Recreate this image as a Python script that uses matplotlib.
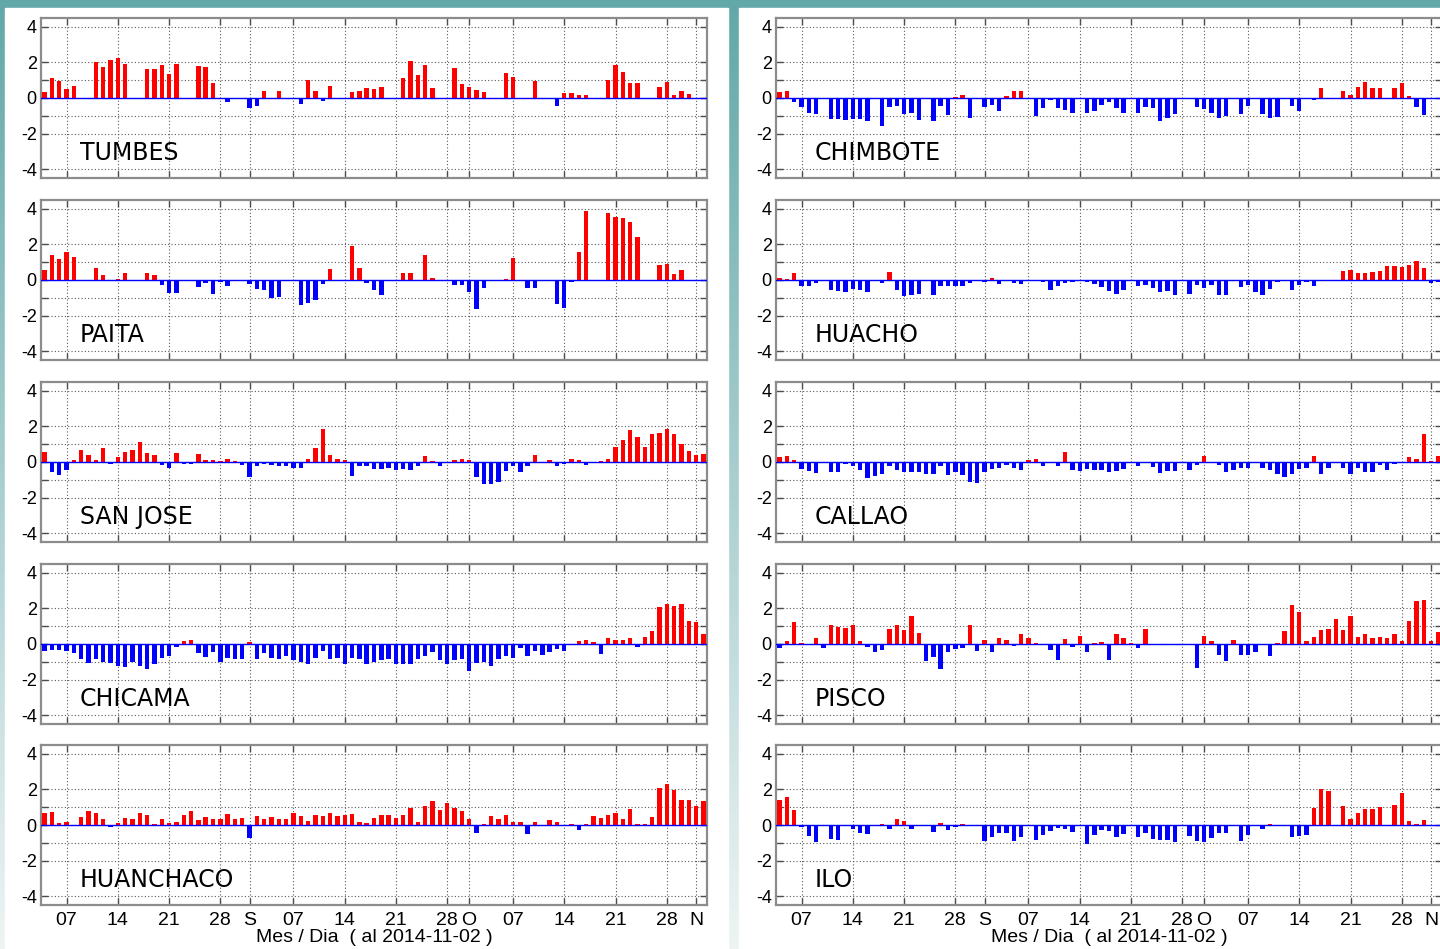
import numpy as np
import pandas as pd
import matplotlib
matplotlib.use('Agg')
import matplotlib.pyplot as plt
from matplotlib.patches import Rectangle

days = pd.date_range('2014-08-04', '2014-11-02', freq='D')

tumbes = [0.34, 1.10, 0.97, 0.49, 0.69, 0, 0, 2.02, 1.74, 2.15,
          2.24, 1.93, 0, 0, 1.61, 1.64, 1.87, 1.33, 1.93, 0,
          0, 1.81, 1.74, 0.86, 0, -0.24, 0, 0, -0.56, -0.43,
          0.41, 0, 0.37, 0, 0, -0.34, 1.01, 0.37, -0.19, 0.69,
          0, 0, 0.33, 0.37, 0.56, 0.50, 0.61, 0, 0, 1.14,
          2.07, 1.29, 1.83, 0.56, 0, 0, 1.70, 0.79, 0.62, 0.43,
          0.34, 0, 0, 1.42, 1.20, 0, -0.07, 0.97, 0, 0,
          -0.43, 0.28, 0.28, 0.19, 0.19, 0, 0, 1.01, 1.83, 1.48,
          0.82, 0.82, 0, 0, 0.64, 0.92, 0.19, 0.41, 0.22, 0,
          0]

paita = [0.58, 1.40, 1.18, 1.55, 1.27, 0, 0, 0.67, 0.26, 0,
         0.06, 0.39, 0, 0, 0.39, 0.26, -0.26, -0.73, -0.73, 0,
         0, -0.41, -0.19, -0.77, -0.09, -0.36, 0, 0, -0.24, -0.49,
         -0.54, -1.01, -0.96, 0, 0, -1.40, -1.31, -1.10, -0.21, 0.64,
         0, 0, 1.93, 0.67, -0.19, -0.58, -0.82, 0, 0, 0.39,
         0.39, 0, 1.40, 0.13, 0, 0, -0.28, -0.28, -0.67, -1.61,
         -0.47, 0, 0, 0.04, 1.22, 0, -0.47, -0.47, 0, 0,
         -1.33, -1.57, -0.09, 1.55, 3.88, 0, 0, 3.75, 3.56, 3.46,
         3.26, 2.42, 0, 0, 0.86, 0.92, 0.32, 0.56, 0, 0,
         0]

san_jose = [0.54, -0.56, -0.72, -0.47, 0.10, 0.68, 0.41, 0.14, 0.78, -0.12,
            0.29, 0.56, 0.68, 1.15, 0.52, 0.41, -0.17, -0.31, 0.52, -0.12,
            -0.12, 0.47, 0.10, 0.10, 0.06, 0.17, 0.06, -0.17, -0.85, -0.21,
            -0.12, -0.17, -0.21, -0.25, -0.35, -0.31, 0.17, 0.78, 1.83, 0.41,
            0.17, 0.14, -0.76, -0.25, -0.21, -0.37, -0.41, -0.35, -0.47, -0.41,
            -0.47, -0.21, 0.33, 0.06, -0.21, -0.08, 0.14, 0.17, 0.10, -0.85,
            -1.22, -1.22, -1.11, -0.52, -0.21, -0.56, -0.21, 0.37, -0.06, 0.14,
            -0.21, -0.12, 0.17, 0.12, -0.17, -0.06, 0.06, 0.19, 0.83, 1.22,
            1.79, 1.42, 0.83, 1.57, 1.65, 1.83, 1.57, 1.01, 0.60, 0.37,
            0.43]

chicama = [-0.42, -0.33, -0.33, -0.42, -0.52, -0.85, -1.06, -0.85, -1.00, -1.06,
           -1.23, -1.29, -1.00, -1.23, -1.42, -1.15, -0.77, -0.69, -0.19, 0.15,
           0.25, -0.52, -0.73, -0.46, -1.00, -0.77, -0.85, -0.85, 0.12, -0.85,
           -0.52, -0.81, -0.85, -0.69, -0.90, -1.00, -1.15, -0.77, -0.42, -0.87,
           -0.81, -1.12, -0.81, -0.85, -1.12, -1.00, -0.90, -0.85, -1.12, -1.15,
           -1.12, -0.85, -0.65, -0.46, -0.90, -1.12, -0.90, -0.85, -1.50, -1.06,
           -1.00, -1.23, -0.85, -0.69, -0.81, -0.23, -0.65, -0.42, -0.62, -0.46,
           -0.29, -0.42, -0.08, 0.15, 0.23, 0.12, -0.58, 0.35, 0.21, 0.25,
           0.33, -0.19, 0.40, 0.71, 2.10, 2.27, 2.13, 2.27, 1.29, 1.25,
           0.56]

huanchaco = [0.67, 0.71, 0.10, 0.16, 0, 0.43, 0.80, 0.67, 0.33, -0.10,
             0.14, 0.39, 0.35, 0.67, 0.55, 0.08, 0.35, 0.12, 0.16, 0.55,
             0.76, 0.27, 0.43, 0.35, 0.35, 0.61, 0.31, 0.39, -0.71, 0.51,
             0.31, 0.43, 0.35, 0.31, 0.67, 0.51, 0.24, 0.55, 0.51, 0.67,
             0.51, 0.55, 0.61, 0.18, 0.12, 0.39, 0.59, 0.55, 0.39, 0.55,
             0.96, 0.18, 1.06, 1.35, 0.86, 1.22, 0.96, 0.80, 0.31, -0.47,
             0.06, 0.51, 0.35, 0.59, 0.18, 0.16, -0.51, 0.18, -0.08, 0.27,
             0.16, 0, 0.04, -0.27, 0.06, 0.51, 0.39, 0.55, 0.69, 0.35,
             0.90, 0.06, 0.06, 0.43, 2.06, 2.33, 1.96, 1.41, 1.41, 1.06,
             1.35]

chimbote = [0.33, 0.42, -0.21, -0.52, -0.83, -0.88, 0, -1.17, -1.17, -1.21,
            -1.17, -1.17, -1.27, 0, -1.56, -0.52, -0.44, -0.88, -0.83, -1.21,
            0, -1.27, -0.44, -0.98, 0.06, 0.19, -1.13, 0, -0.48, -0.40,
            -0.71, 0.13, 0.42, 0.42, 0, -1.02, -0.54, -0.10, -0.54, -0.67,
            -0.83, 0, -0.87, -0.75, -0.37, -0.21, -0.54, -0.83, 0, -0.83,
            -0.50, -0.54, -1.27, -1.12, -0.92, 0, 0, -0.48, -0.63, -0.83,
            -1.12, -1.02, 0, -0.88, -0.44, 0, -0.92, -1.12, -1.06, 0,
            -0.44, -0.75, 0, -0.10, 0.56, 0, 0, 0.42, 0.19, 0.60,
            0.92, 0.54, 0.56, 0, 0.56, 0.85, 0.13, -0.52, -0.96, 0,
            0]

huacho = [0.10, 0.06, 0.40, -0.35, -0.35, -0.19, 0, -0.58, -0.63, -0.67,
          -0.48, -0.58, -0.67, 0, -0.19, 0.46, -0.58, -0.90, -0.83, -0.77,
          0, -0.83, -0.33, -0.35, -0.33, -0.35, -0.15, 0, -0.13, 0.10,
          -0.21, 0, -0.15, -0.25, 0, 0, -0.10, -0.58, -0.33, -0.15,
          -0.10, 0, -0.10, -0.25, -0.38, -0.63, -0.77, -0.58, 0, -0.35,
          -0.29, -0.44, -0.67, -0.63, -0.87, 0, -0.77, -0.29, -0.44, -0.29,
          -0.83, -0.87, 0, -0.38, -0.29, -0.67, -0.83, -0.52, -0.13, 0,
          -0.58, -0.29, -0.10, -0.35, 0, -0.08, 0, 0.52, 0.54, 0.40,
          0.40, 0.46, 0.50, 0.81, 0.77, 0.71, 0.85, 1.06, 0.65, -0.15,
          -0.13]

callao = [0.27, 0.33, 0.12, -0.38, -0.48, -0.62, 0, -0.58, -0.54, -0.13,
          -0.23, -0.44, -0.88, -0.77, -0.69, -0.23, -0.44, -0.58, -0.58, -0.58,
          -0.65, -0.65, -0.23, -0.73, -0.54, -0.73, -1.12, -1.19, -0.58, -0.42,
          -0.35, -0.19, -0.35, -0.44, 0.10, 0.17, -0.23, 0, -0.23, 0.58,
          -0.44, -0.48, -0.38, -0.44, -0.44, -0.54, -0.50, -0.38, 0, -0.23,
          -0.08, -0.29, -0.63, -0.50, -0.50, 0, -0.44, -0.19, 0.33, 0,
          -0.19, -0.58, -0.44, -0.35, -0.35, 0, -0.35, -0.44, -0.69, -0.83,
          -0.69, -0.38, -0.35, 0.33, -0.69, -0.35, 0, -0.35, -0.69, -0.35,
          -0.58, -0.58, -0.19, -0.44, -0.12, -0.08, 0.27, 0.17, 1.56, 0.08,
          0.35]

pisco = [-0.23, 0.17, 1.25, 0.08, -0.08, 0.32, -0.23, 1.08, 0.98, 0.91,
         1.08, 0.15, -0.17, -0.43, -0.32, 0.87, 1.06, 0.77, 1.57, 0.64,
         -0.96, -0.74, -1.42, -0.43, -0.28, -0.23, 1.08, -0.38, 0.23, -0.47,
         0.32, 0.23, -0.09, 0.57, 0.32, 0.08, -0.08, -0.32, -0.89, 0.28,
         -0.19, 0.45, -0.47, 0.06, 0.09, -0.89, 0.57, 0.32, 0.08, -0.23,
         0.87, 0, 0, 0, 0, 0, 0, -1.34, 0.47, 0.19,
         -0.64, -0.98, 0.23, -0.64, -0.60, -0.43, 0, -0.70, 0.06, 0.74,
         2.17, 1.79, 0.15, 0.42, 0.77, 0.85, 1.38, 0.77, 1.57, 0.42,
         0.58, 0.32, 0.42, 0.36, 0.57, 0.19, 1.28, 2.42, 2.47, 0.19,
         0.68]

ilo = [1.41, 1.59, 0.87, -0.11, -0.61, -0.94, 0, -0.80, -0.83, 0,
       -0.24, -0.43, -0.52, 0, 0.07, -0.24, 0.33, 0.20, -0.24, 0,
       0, -0.39, 0.11, -0.28, -0.09, 0.07, 0, 0, -0.89, -0.70,
       -0.43, -0.43, -0.91, -0.70, 0, -0.83, -0.57, -0.33, -0.17, -0.24,
       -0.39, 0, -1.07, -0.57, -0.28, -0.33, -0.70, -0.52, 0, -0.70,
       -0.46, -0.80, -0.83, -0.83, -0.98, 0, -0.61, -0.91, -0.98, -0.74,
       -0.43, -0.43, 0, -0.91, -0.57, 0, -0.24, 0.07, -0.07, 0,
       -0.70, -0.61, -0.57, 0.96, 2.04, 1.91, 0, 1.07, 0.31, 0.69,
       0.91, 0.91, 1.04, 0, 1.13, 1.78, 0.24, 0.06, 0.28, 0,
       0]

left_names = ['TUMBES', 'PAITA', 'SAN JOSE', 'CHICAMA', 'HUANCHACO']
left_data = [tumbes, paita, san_jose, chicama, huanchaco]
right_names = ['CHIMBOTE', 'HUACHO', 'CALLAO', 'PISCO', 'ILO']
right_data = [chimbote, huacho, callao, pisco, ilo]

tick_dates = ['2014-08-07', '2014-08-14', '2014-08-21', '2014-08-28', '2014-09-01',
              '2014-09-07', '2014-09-14', '2014-09-21', '2014-09-28', '2014-10-01',
              '2014-10-07', '2014-10-14', '2014-10-21', '2014-10-28', '2014-11-01']
tick_labels = ['07', '14', '21', '28', 'S', '07', '14', '21', '28', 'O',
               '07', '14', '21', '28', 'N']

W, H = 1440, 949
fig = plt.figure(figsize=(W / 100, H / 100), dpi=100)

# teal gradient background with white panels on top
bg = fig.add_axes([0, 0, 1, 1], zorder=-10)
top = np.array([98, 168, 168]) / 255
bot = np.array([238, 244, 244]) / 255
t = np.linspace(0, 1, 256)[:, None, None]
grad = top * (1 - t) + bot * t
grad = np.repeat(grad, 2, axis=1)
bg.imshow(grad, aspect='auto', extent=[0, 1, 0, 1])
bg.add_patch(Rectangle((5 / W, 0), (728 - 5) / W, 1 - 8 / H, color='white'))
bg.add_patch(Rectangle((739 / W, 0), (W - 739) / W, 1 - 8 / H, color='white'))
bg.set_xlim(0, 1)
bg.set_ylim(0, 1)
bg.axis('off')

tick_font = 'Liberation Sans'
row_tops = [18, 200, 382, 564, 745]
ax_h = 160
ax_w = 666
col_left = [41, 776]

xmin = days[0] - pd.Timedelta(hours=12)
xmax = days[-1] + pd.Timedelta(hours=12)
name_x = pd.Timestamp('2014-08-08 20:00')

for c, (names, datas) in enumerate([(left_names, left_data), (right_names, right_data)]):
    for r in range(5):
        vals = np.array(datas[r])
        ax = fig.add_axes([col_left[c] / W, 1 - (row_tops[r] + ax_h) / H, ax_w / W, ax_h / H])
        cols = np.where(vals >= 0, '#ff0000', '#0000ff')
        ax.bar(days, vals, width=0.6, color=cols, linewidth=0, zorder=3)
        ax.axhline(0, color='#0000ff', lw=1.0, zorder=4)
        ax.set_xlim(xmin, xmax)
        ax.set_ylim(-4.5, 4.5)
        ax.set_yticks([-4, -2, -1, 0, 1, 2, 4])
        ax.set_yticklabels(['-4', '-2', '', '0', '', '2', '4'], family=tick_font, fontsize=13)
        ax.set_xticks(pd.to_datetime(tick_dates))
        if r == 4:
            ax.set_xticklabels(tick_labels, family=tick_font, fontsize=14)
            ax.set_xlabel('Mes / Dia  ( al 2014-11-02 )', family=tick_font, fontsize=14,
                          labelpad=0)
        else:
            ax.set_xticklabels([])
        ax.tick_params(direction='in', length=5, width=1, color='0.3',
                       top=True, right=True, pad=3)
        ax.tick_params(axis='x', pad=5)
        ax.grid(True, color='0.35', linestyle=(0, (1, 2)), linewidth=0.8, zorder=1)
        for s in ax.spines.values():
            s.set_color('0.55')
            s.set_linewidth(1.6)
        ax.text(name_x, -3.5, names[r],
                family='DejaVu Sans', fontsize=17, ha='left', va='baseline', zorder=5)

fig.savefig('out.png', dpi=100)
